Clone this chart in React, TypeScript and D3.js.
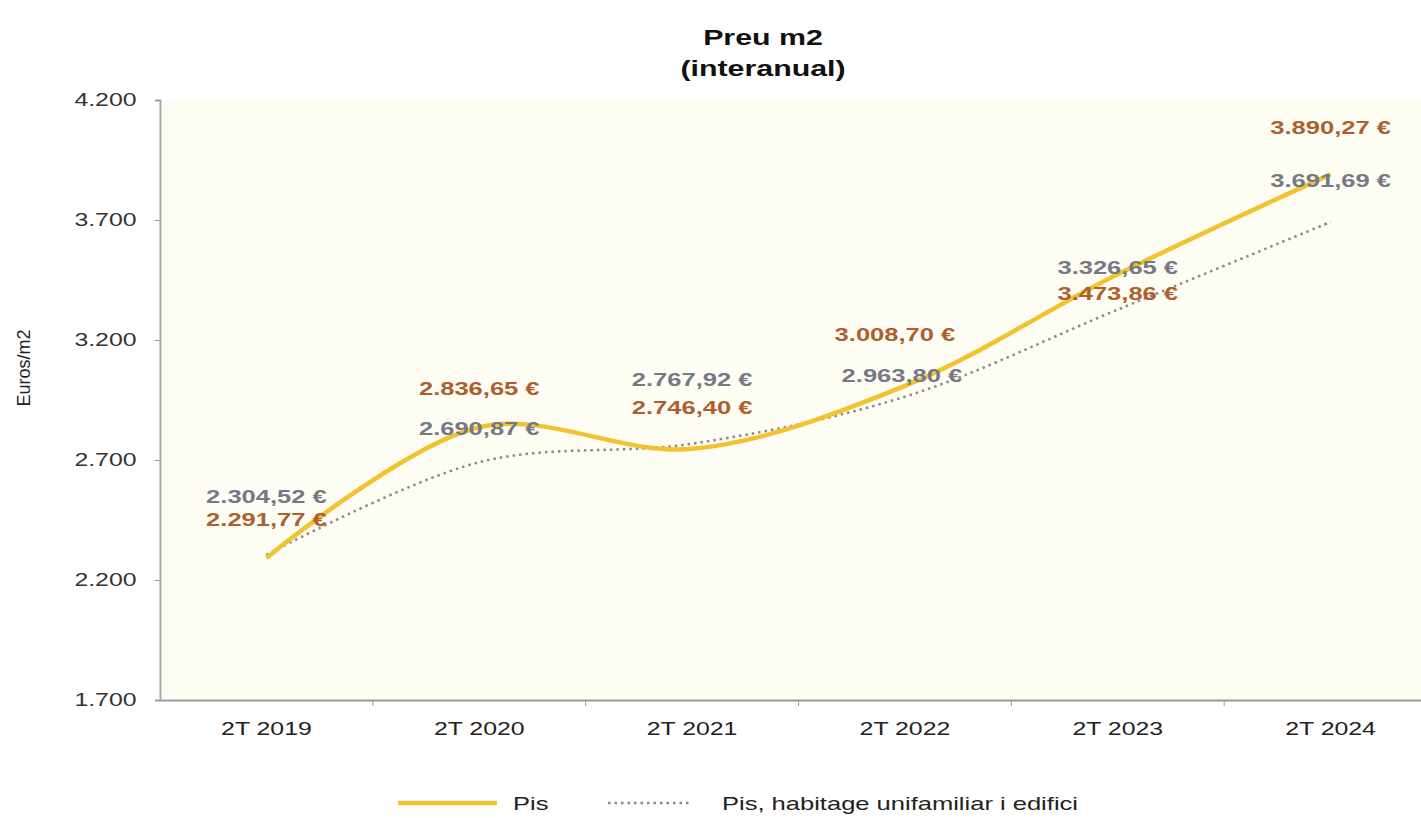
import { useEffect, useRef } from 'react';
import * as d3 from 'd3';

const periods = ['2T 2019', '2T 2020', '2T 2021', '2T 2022', '2T 2023', '2T 2024'];
const pis = [2291.77, 2836.65, 2746.40, 3008.70, 3473.86, 3890.27];
const pisUnifamiliar = [2304.52, 2690.87, 2767.92, 2963.80, 3326.65, 3691.69];
const yTicks = [1700, 2200, 2700, 3200, 3700, 4200];
const seriesNames = ['Pis', 'Pis, habitage unifamiliar i edifici'];

// label offsets (px) from their point, to mimic the original placement
const pisLabelDy = [-38, -39, -41, -51, 19, -47];
const pisLabelDx = [0, 0, 0, -10, 0, 0];
const uniLabelDy = [-58, -34, -64, -21, -42, -41];
const uniLabelDx = [0, 0, 0, -3, 0, 0];

// the original is stretched sideways
const SX = 1.38;

const fmt = (v: number) => {
  const [i, d] = v.toFixed(2).split('.');
  return i.replace(/\B(?=(\d{3})+(?!\d))/g, '.') + ',' + d + ' €';
};

export default function App() {
  const ref = useRef<SVGSVGElement>(null);

  useEffect(() => {
    const svg = d3.select(ref.current);
    svg.selectAll('*').remove();

    const font = '"Liberation Sans", Arial, sans-serif';
    const left = 160, right = 1437, top = 100, bottom = 700;

    const x = d3.scaleBand().domain(periods).range([left, right]).padding(0);
    const cx = (p: string) => (x(p) as number) + x.bandwidth() / 2;
    const y = d3.scaleLinear().domain([1700, 4200]).range([bottom, top]);

    // plot background
    svg.append('rect')
      .attr('x', left).attr('y', top)
      .attr('width', 1421 - left).attr('height', bottom - top)
      .attr('fill', '#fefdf3');

    // title
    const title = svg.append('text')
      .attr('transform', `translate(763,0) scale(${SX},1)`)
      .attr('text-anchor', 'middle')
      .attr('font-family', font)
      .attr('font-weight', 'bold')
      .attr('font-size', 22)
      .attr('fill', '#111');
    title.append('tspan').attr('x', 0).attr('y', 45).text('Preu m2');
    title.append('tspan').attr('x', 0).attr('y', 76).text('(interanual)');

    // y axis
    const yAxis = svg.append('g')
      .attr('transform', `translate(${left},0)`)
      .call(d3.axisLeft(y).tickValues(yTicks).tickSize(5).tickPadding(12)
        .tickFormat(d => d3.format(',')(d as number).replace(/,/g, '.')));
    yAxis.select('.domain').attr('stroke', '#aaa').attr('stroke-width', 2);
    yAxis.selectAll('line').attr('stroke', '#999');
    yAxis.selectAll('text').attr('font-family', font).attr('font-size', 18).attr('fill', '#333')
      .attr('transform', `scale(${SX},1)`);

    // x axis
    const xAxis = svg.append('g')
      .attr('transform', `translate(0,${bottom})`)
      .call(d3.axisBottom(x).tickSize(0).tickPadding(22));
    xAxis.select('.domain').attr('stroke', '#999').attr('stroke-width', 2);
    xAxis.selectAll('text').attr('font-family', font).attr('font-size', 18).attr('fill', '#222')
      .attr('transform', `scale(${SX},1)`);
    xAxis.selectAll('.bound')
      .data(periods.slice(1))
      .join('line')
      .attr('x1', d => x(d) as number).attr('x2', d => x(d) as number)
      .attr('y1', 0).attr('y2', 6)
      .attr('stroke', '#999');

    svg.append('text')
      .attr('transform', `translate(30,${(top + bottom) / 2 - 32}) rotate(-90)`)
      .attr('text-anchor', 'middle')
      .attr('font-family', font)
      .attr('font-size', 18)
      .attr('fill', '#222')
      .text('Euros/m2');

    const line = d3.line<number>()
      .x((_, i) => cx(periods[i]))
      .y(d => y(d))
      .curve(d3.curveCatmullRom.alpha(0.5));

    svg.append('path')
      .datum(pisUnifamiliar)
      .attr('d', line)
      .attr('fill', 'none')
      .attr('stroke', '#8a8a8a')
      .attr('stroke-width', 2.5)
      .attr('stroke-dasharray', '2.5,4');

    svg.append('path')
      .datum(pis)
      .attr('d', line)
      .attr('fill', 'none')
      .attr('stroke', '#f2c230')
      .attr('stroke-width', 4.5);

    // value labels
    svg.selectAll('.uniLbl')
      .data(pisUnifamiliar)
      .join('text')
      .attr('transform', (d, i) =>
        `translate(${cx(periods[i]) + uniLabelDx[i]},${y(d) + uniLabelDy[i]}) scale(${SX},1)`)
      .attr('dy', '0.35em')
      .attr('text-anchor', 'middle')
      .attr('font-family', font)
      .attr('font-weight', 'bold')
      .attr('font-size', 18.5)
      .attr('fill', '#767885')
      .text(d => fmt(d));

    svg.selectAll('.pisLbl')
      .data(pis)
      .join('text')
      .attr('transform', (d, i) =>
        `translate(${cx(periods[i]) + pisLabelDx[i]},${y(d) + pisLabelDy[i]}) scale(${SX},1)`)
      .attr('dy', '0.35em')
      .attr('text-anchor', 'middle')
      .attr('font-family', font)
      .attr('font-weight', 'bold')
      .attr('font-size', 18.5)
      .attr('fill', '#ad5f2e')
      .text(d => fmt(d));

    // legend
    const lg = svg.append('g').attr('font-family', font).attr('font-size', 18.5).attr('fill', '#222');
    lg.append('line').attr('x1', 398).attr('x2', 497).attr('y1', 803).attr('y2', 803)
      .attr('stroke', '#f2c230').attr('stroke-width', 4.5);
    lg.append('text').attr('transform', `translate(513,810) scale(${SX},1)`).text(seriesNames[0]);
    lg.append('line').attr('x1', 608).attr('x2', 690).attr('y1', 803).attr('y2', 803)
      .attr('stroke', '#8a8a8a').attr('stroke-width', 2.5).attr('stroke-dasharray', '2.5,4');
    lg.append('text').attr('transform', `translate(722,810) scale(${SX},1)`).text(seriesNames[1]);
  }, []);

  return (
    <svg ref={ref} width={1421} height={818}
      style={{ position: 'absolute', left: 0, top: 0, background: '#fff' }} />
  );
}
